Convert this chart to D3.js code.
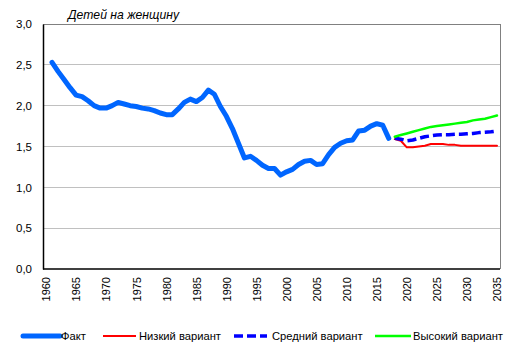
<!DOCTYPE html>
<html><head><meta charset="utf-8">
<script src="https://cdn.jsdelivr.net/npm/d3@7"></script>
<style>body{margin:0;background:#fff}svg{display:block;font-family:Arial,"Liberation Sans",sans-serif}</style>
</head><body><svg id="c" width="515" height="355"></svg>
<script>
const factYears = d3.range(1961, 2018);
const factValues = [2.53,2.42,2.32,2.22,2.13,2.11,2.06,2.00,1.97,1.97,2.00,2.04,2.02,2.00,1.99,1.97,1.96,1.94,1.91,1.89,1.89,1.96,2.04,2.08,2.05,2.10,2.19,2.14,1.99,1.87,1.72,1.54,1.36,1.38,1.33,1.27,1.23,1.23,1.15,1.19,1.22,1.28,1.32,1.33,1.28,1.29,1.40,1.49,1.54,1.57,1.58,1.69,1.70,1.75,1.78,1.76,1.60];
const projYears = d3.range(2018, 2036);
const lowValues = [1.59,1.57,1.49,1.49,1.50,1.51,1.53,1.53,1.53,1.52,1.52,1.51,1.51,1.51,1.51,1.51,1.51,1.51];
const midValues = [1.60,1.59,1.57,1.58,1.60,1.62,1.63,1.64,1.645,1.645,1.65,1.65,1.655,1.66,1.67,1.675,1.68,1.69];
const highValues = [1.62,1.64,1.66,1.68,1.70,1.72,1.74,1.75,1.76,1.77,1.78,1.79,1.80,1.82,1.83,1.84,1.86,1.88];
const yTicks = [0,0.5,1,1.5,2,2.5,3];
const xTicks = d3.range(1960, 2036, 5);
const seriesNames = ["Факт","Низкий вариант","Средний вариант","Высокий вариант"];
const yTitle = "Детей на женщину";

const svg = d3.select("#c");
const L=43, R=500, T=24, B=269;
const x = d3.scaleLinear().domain([1959.5, 2035.5]).range([L, R]);
const y = d3.scaleLinear().domain([0, 3]).range([B, T]);
const fmt = v => d3.format(".1f")(v).replace(".", ",");

// gridlines
svg.append("g").selectAll("line").data(yTicks.filter(v=>v>0 && v<3)).join("line")
  .attr("x1",L).attr("x2",R).attr("y1",d=>y(d)).attr("y2",d=>y(d))
  .attr("stroke","#c0c0c0").attr("stroke-width",1).attr("shape-rendering","crispEdges");
// top/right border
svg.append("path").attr("d",`M${L},${T}H${R}V${B}`).attr("fill","none")
  .attr("stroke","#808080").attr("stroke-width",1).attr("shape-rendering","crispEdges");

// y axis
const ya = svg.append("g").attr("transform",`translate(${L},0)`)
  .call(d3.axisLeft(y).tickValues(yTicks).tickFormat(fmt).tickSize(0).tickPadding(11));
ya.select(".domain").attr("stroke","#000").attr("stroke-width",1.5);
ya.selectAll("text").attr("font-size",11.5).attr("fill","#000").attr("font-family","Arial, Liberation Sans, sans-serif");

// x axis
const xa = svg.append("g").attr("transform",`translate(0,${B})`)
  .call(d3.axisBottom(x).tickValues(xTicks).tickFormat(d3.format("d")).tickSize(0).tickPadding(0));
xa.select(".domain").attr("stroke","#000").attr("stroke-width",1.5).attr("d",`M${L},0H${R}`);
xa.selectAll("text").attr("font-size",11).attr("fill","#000").attr("font-family","Arial, Liberation Sans, sans-serif")
  .attr("transform","rotate(-90)").attr("text-anchor","end").attr("x",-8).attr("y",0).attr("dy","0.35em");

// title
svg.append("text").attr("x",68).attr("y",19).attr("font-size",12.2).attr("font-style","italic").text(yTitle);

const line = d3.line().x(d=>x(d[0])).y(d=>y(d[1]));
const zip = (a,b)=>a.map((v,i)=>[v,b[i]]);
const styles = [
  {data: zip(factYears,factValues), color:"#0066ff", w:5, dash:null},
  {data: zip(projYears,lowValues), color:"#ff0000", w:2, dash:null},
  {data: zip(projYears,midValues), color:"#0000ff", w:3.5, dash:"9,4"},
  {data: zip(projYears,highValues), color:"#00ff00", w:2.5, dash:null}
];
styles.forEach(s=>{
  svg.append("path").datum(s.data).attr("d",line).attr("fill","none")
    .attr("stroke",s.color).attr("stroke-width",s.w).attr("stroke-linejoin","round")
    .attr("stroke-linecap", s.dash ? "butt" : "round")
    .attr("stroke-dasharray", s.dash);
});

// legend
const legX = [[23,60,61],[103,136,139],[234,267,272],[375,411,413]];
const lg = svg.append("g");
styles.forEach((s,i)=>{
  lg.append("line").attr("x1",legX[i][0]).attr("x2",legX[i][1]).attr("y1",336).attr("y2",336)
    .attr("stroke",s.color).attr("stroke-width",s.w).attr("stroke-dasharray",s.dash)
    .attr("stroke-linecap", i===0 ? "round" : "butt");
  lg.append("text").attr("x",legX[i][2]).attr("y",340).attr("font-size",11.2).text(seriesNames[i]);
});
</script></body></html>
